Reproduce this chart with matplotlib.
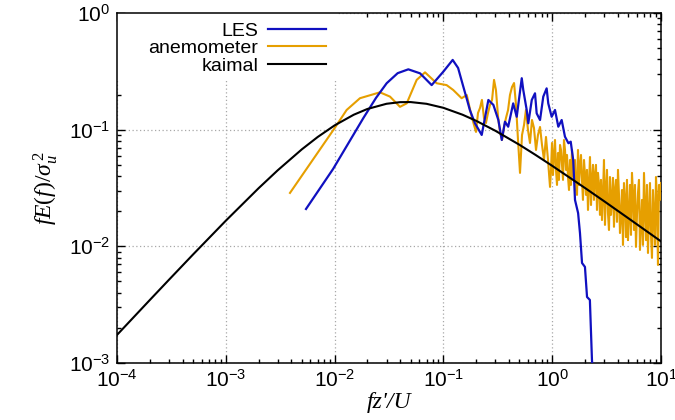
import matplotlib
matplotlib.use("Agg")
import matplotlib.pyplot as plt
from matplotlib.ticker import LogLocator, FuncFormatter, NullFormatter
from matplotlib.patches import Rectangle
import numpy as np

plt.rcParams['mathtext.fontset'] = 'custom'
plt.rcParams['mathtext.rm'] = 'Liberation Serif'
plt.rcParams['mathtext.it'] = 'Liberation Serif:italic'
plt.rcParams['mathtext.sf'] = 'Liberation Sans'
plt.rcParams['font.family'] = ['Liberation Sans', 'DejaVu Sans']

# ---------------- data ----------------
kaimal_x = [1e-4, 2e-4, 3e-4, 5e-4, 1e-3, 2e-3, 3e-3, 5e-3, 7e-3, 1e-2, 1.5e-2, 2e-2,
            3e-2, 4e-2, 5e-2, 7e-2, 0.1, 0.15, 0.2, 0.3, 0.5, 0.7, 1.0, 2.0, 3.0, 5.0, 10.0]
kaimal_y = [1.740e-3, 3.462e-3, 5.164e-3, 8.515e-3, 1.658e-2, 3.146e-2, 4.485e-2, 6.783e-2,
            8.66e-2, 0.1088, 0.1343, 0.1504, 0.1667, 0.1721, 0.1724, 0.1666, 0.1539, 0.1343,
            0.1191, 0.0979, 0.0742, 0.0609, 0.0490, 0.03165, 0.02437, 0.01743, 0.01103]

les_x = [0.00546, 0.00968, 0.0184, 0.024, 0.0301, 0.038, 0.0476, 0.061, 0.078, 0.0998,
         0.1217, 0.1365, 0.151, 0.165, 0.175, 0.195, 0.225, 0.259, 0.288, 0.320, 0.344,
         0.368, 0.394, 0.438, 0.472, 0.525, 0.542, 0.583, 0.603, 0.649, 0.695, 0.720,
         0.773, 0.828, 0.889, 0.920, 0.989, 1.061, 1.138, 1.222, 1.31, 1.41, 1.48, 1.56,
         1.62, 1.73, 1.80, 1.88, 2.00, 2.09, 2.22, 2.32, 2.42]
les_y = [0.0209, 0.046, 0.126, 0.187, 0.250, 0.305, 0.329, 0.304, 0.241, 0.314,
         0.396, 0.338, 0.241, 0.180, 0.1475, 0.1135, 0.0901, 0.1797, 0.163, 0.121, 0.0816,
         0.117, 0.106, 0.168, 0.129, 0.276, 0.219, 0.1475, 0.1135, 0.1797, 0.205, 0.138,
         0.121, 0.192, 0.226, 0.168, 0.129, 0.1475, 0.106, 0.121, 0.0871, 0.0765, 0.0789, 0.055,
         0.025, 0.0193, 0.0130, 0.0072, 0.00666, 0.00368, 0.00347, 0.00106, 0.0006]

anem_x = [0.00389, 0.0100, 0.0129, 0.0171, 0.0261, 0.0323, 0.0399, 0.046, 0.0568, 0.0678,
          0.0867, 0.107, 0.123, 0.147, 0.164, 0.182,
          0.1994, 0.208, 0.217, 0.226, 0.236, 0.246, 0.257, 0.268, 0.280, 0.292,
          0.304, 0.318, 0.331, 0.346, 0.361, 0.376, 0.393, 0.409, 0.427, 0.446,
          0.465, 0.485, 0.506, 0.528, 0.551, 0.574, 0.599, 0.625, 0.652, 0.680,
          0.710, 0.740, 0.773, 0.806, 0.841, 0.877, 0.915,
          0.955, 0.975, 0.996, 1.017, 1.039, 1.061, 1.084, 1.107, 1.130, 1.154,
          1.180, 1.205, 1.230, 1.257, 1.283, 1.311, 1.339, 1.368, 1.397, 1.427,
          1.457, 1.488, 1.520, 1.553, 1.586, 1.620, 1.655, 1.690, 1.726, 1.763,
          1.801, 1.839, 1.878, 1.918, 1.960, 2.002, 2.044, 2.088, 2.133, 2.179,
          2.225, 2.273, 2.321, 2.371, 2.421, 2.473, 2.526, 2.580, 2.635, 2.691,
          2.749, 2.808, 2.868, 2.929, 2.992, 3.056, 3.121, 3.188, 3.256, 3.326,
          3.397, 3.470, 3.544, 3.620, 3.697, 3.776, 3.857, 3.940, 4.024, 4.110,
          4.198, 4.288, 4.379, 4.473, 4.568, 4.666, 4.766, 4.868, 4.972, 5.078,
          5.187, 5.298, 5.411, 5.527, 5.645, 5.766, 5.889, 6.015, 6.144, 6.275,
          6.409, 6.546, 6.686, 6.829, 6.976, 7.125, 7.277, 7.433, 7.592, 7.754,
          7.920, 8.089, 8.263, 8.439, 8.620, 8.804, 8.993, 9.185, 9.382, 9.582,
          9.788, 10.0]
anem_y = [0.0287, 0.103, 0.1475, 0.186, 0.209, 0.192, 0.157, 0.168, 0.267, 0.310,
          0.250, 0.241, 0.219, 0.186, 0.198, 0.129,
          0.0956, 0.139, 0.1535, 0.180, 0.126, 0.114, 0.139, 0.163, 0.180, 0.267,
          0.219, 0.1285, 0.0956, 0.0816, 0.1055, 0.126, 0.1475, 0.198, 0.232, 0.251,
          0.163, 0.0816, 0.0426, 0.0901, 0.1097, 0.1475, 0.0994, 0.0769, 0.121, 0.1034,
          0.067, 0.0901, 0.1055, 0.0739, 0.055, 0.0866, 0.055,
          0.0323, 0.0452, 0.0769, 0.0409, 0.0607, 0.0816, 0.0452, 0.0336, 0.0631, 0.0371,
          0.0739, 0.067, 0.0499, 0.0371, 0.0816, 0.067, 0.0452, 0.0607, 0.0393, 0.0304,
          0.055, 0.0336, 0.067, 0.0409, 0.0371, 0.055, 0.0304, 0.0276, 0.067, 0.0336,
          0.0499, 0.0607, 0.0371, 0.025, 0.055, 0.0409, 0.0276, 0.0452, 0.0205, 0.0336,
          0.0583, 0.0226, 0.0371, 0.0499, 0.025, 0.0409, 0.0499, 0.0205, 0.0426, 0.0336,
          0.0186, 0.0371, 0.0168, 0.0276, 0.055, 0.01526, 0.0304, 0.0452, 0.0193, 0.0138,
          0.0393, 0.0186, 0.025, 0.0386, 0.0147, 0.0304, 0.0371, 0.0162, 0.0452, 0.0276,
          0.0130, 0.0186, 0.0304, 0.01028, 0.0349, 0.025, 0.0120, 0.0371, 0.0113, 0.0186,
          0.0336, 0.01253, 0.0426, 0.0276, 0.0138, 0.0336, 0.00989, 0.0186, 0.0287, 0.0371,
          0.00931, 0.01526, 0.025, 0.01028, 0.0426, 0.0226, 0.0113, 0.0336, 0.00877, 0.0186,
          0.0349, 0.01253, 0.00796, 0.0304, 0.0186, 0.01028, 0.0393, 0.025, 0.00693, 0.0336,
          0.025, 0.0349]

# ---------------- figure ----------------
fig = plt.figure(figsize=(6.75, 4.2), dpi=100)
ax = fig.add_axes([117/675, 1-363/420, 544/675, 350/420])

c_les = '#1010c0'
c_anem = '#e69f00'

l2, = ax.plot(anem_x, anem_y, color=c_anem, lw=1.5, zorder=3, label='anemometer')
l1, = ax.plot(les_x, les_y, color=c_les, lw=1.6, zorder=4, label='LES')
l3, = ax.plot(kaimal_x, kaimal_y, color='black', lw=1.5, zorder=5, label='kaimal')

ax.set_xscale('log')
ax.set_yscale('log')
ax.set_xlim(1e-4, 1e1)
ax.set_ylim(1e-3, 1e0)

def fmt(v, pos):
    e = int(round(np.log10(v)))
    return r'$\mathsf{10^{%d}}$' % e

ax.xaxis.set_major_locator(LogLocator(base=10, numticks=20))
ax.yaxis.set_major_locator(LogLocator(base=10, numticks=20))
ax.xaxis.set_minor_locator(LogLocator(base=10, subs=np.arange(2, 10), numticks=20))
ax.yaxis.set_minor_locator(LogLocator(base=10, subs=np.arange(2, 10), numticks=20))
ax.xaxis.set_major_formatter(FuncFormatter(fmt))
ax.yaxis.set_major_formatter(FuncFormatter(fmt))
ax.xaxis.set_minor_formatter(NullFormatter())
ax.yaxis.set_minor_formatter(NullFormatter())

ax.tick_params(which='both', direction='in', top=True, right=True, width=1.0)
ax.tick_params(which='major', length=6, labelsize=15)
ax.tick_params(which='minor', length=3)
ax.tick_params(axis='x', which='major', pad=4)
ax.tick_params(axis='y', which='major', pad=5)

for s in ax.spines.values():
    s.set_linewidth(1.1)

ax.grid(True, which='major', color='#a8a8a8', linestyle=(0, (1, 2)), linewidth=0.9)

# white key background (hides grid behind the key)
ax.add_patch(Rectangle((0, (363-80)/350), (338-117)/544, 1 - (363-80)/350,
                       transform=ax.transAxes, facecolor='white', edgecolor='none', zorder=1.8))

leg = ax.legend(handles=[l1, l2, l3], loc='upper right',
                bbox_to_anchor=((330-117)/544, 1 - 5/350), frameon=False,
                markerfirst=False, fontsize=14, handlelength=3.0, handletextpad=0.5,
                labelspacing=0.0, borderpad=0.2, borderaxespad=0)
for t in leg.get_texts():
    t.set_ha('right')

ax.set_ylabel(r'$fE(f)/\sigma_u^{\,2}$', fontsize=17, labelpad=6)
ax.set_xlabel("fz'/U", fontsize=17, labelpad=1, fontfamily='Liberation Serif', fontstyle='italic')

fig.savefig('out.png', dpi=100)
